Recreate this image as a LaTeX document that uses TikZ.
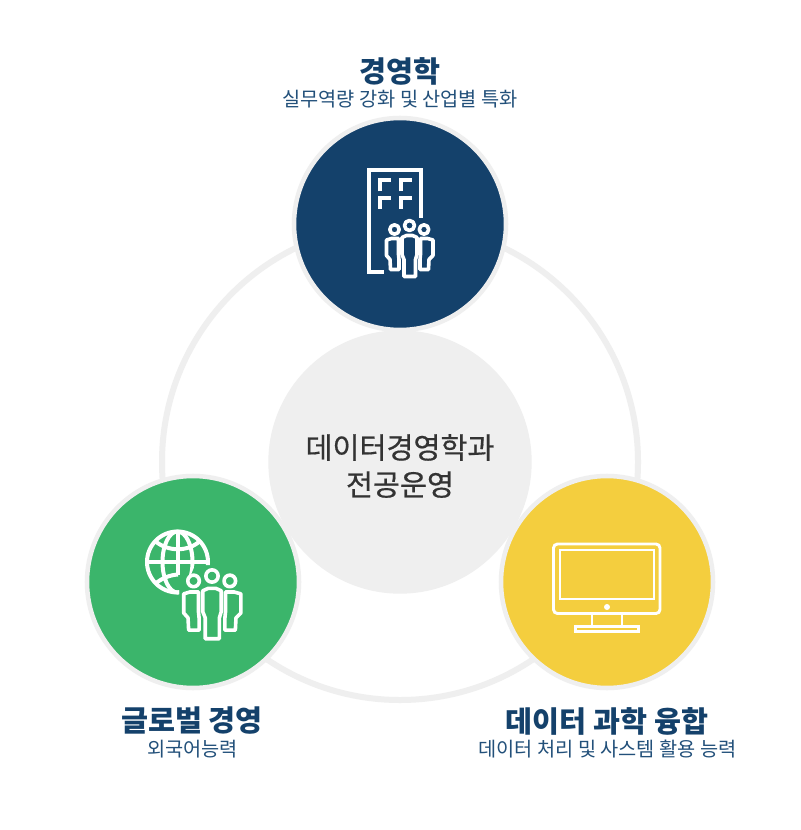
\documentclass[tikz,border=0pt]{standalone}
\usepackage{fontspec}
\newfontfamily\kr{Noto Sans CJK KR}
\newfontfamily\krcore[FakeBold=0.5]{Noto Sans CJK KR}
\definecolor{ringgrey}{HTML}{EFEFEF}
\definecolor{navy}{HTML}{14416B}
\definecolor{subnavy}{HTML}{22507A}
\definecolor{leaf}{HTML}{3BB56B}
\definecolor{sun}{HTML}{F4CE3E}
\definecolor{ink}{HTML}{333333}
\tikzset{
  x=0.75pt,y=-0.75pt,
  ball/.style={circle,draw=ringgrey,line width=3.4pt,minimum size=159pt,inner sep=0pt},
  icon/.style={draw=white,line width=2.2pt,line join=miter,fill=none},
  heavy/.style={draw=white,line width=3pt,line join=miter,fill=none},
  person/.style={draw=white,line width=2.7pt,line join=round,fill=none},
  title/.style={font=\kr\bfseries\fontsize{22}{26}\selectfont,text=navy,inner sep=0pt},
  subtitle/.style={font=\kr\fontsize{14.8}{18}\selectfont,text=subnavy,inner sep=0pt},
  core/.style={font=\krcore\fontsize{22}{27.8}\selectfont,text=ink,align=center,inner sep=0pt},
}
% three people; #1,#2 = position of the middle head's centre (px), #3 = scale
\newcommand{\threepeople}[3]{%
  \begin{scope}[shift={(#1,#2)},scale=#3]
    \draw[person] (0,0) circle (5);
    \draw[person] (-15,4) circle (4.7);
    \draw[person] (14.5,4) circle (4.7);
    \draw[person] (-7.5,12) -- (-3,10) -- (3,10) -- (7.5,12) -- (7.5,29) -- (6,34) -- (6,51) -- (-5.5,51) -- (-5.5,34) -- (-7.5,29) -- cycle;
    \draw[person] (-23,14.5) -- (-18,13) -- (-11,13) -- (-11,29) -- (-10.5,34) -- (-10.5,44) -- (-19,44) -- (-19.5,34) -- (-23,30) -- cycle;
    \draw[person] (23.5,14.5) -- (18,13) -- (11,13) -- (11,29) -- (10.5,34) -- (10.5,44) -- (19,44) -- (19.5,34) -- (23.5,30) -- cycle;
  \end{scope}}
\begin{document}
\begin{tikzpicture}
\useasboundingbox (0,0) rectangle (800,830);
\fill[white] (0,0) rectangle (800,830);
\node[circle,draw=ringgrey,line width=4.5pt,minimum size=357pt,inner sep=0pt] (orbit) at (400,462) {};
\node[circle,fill=ringgrey,minimum size=197.5pt,inner sep=0pt] (centre) at (400,462) {};
\node[core] (centretext) at (400,466) {데이터경영학과\\전공운영};
\node[ball,fill=navy] (mgmt) at (400,224) {};
\node[ball,fill=leaf] (global) at (193,582) {};
\node[ball,fill=sun] (data) at (607,582) {};
% building icon
\draw[heavy] (420.5,218) -- (420.5,170.5) -- (368.5,170.5) -- (368.5,271.5) -- (384,271.5);
\foreach \wx in {379.5,400.5}{\foreach \wy in {180.5,198}{
  \draw[heavy] (\wx,\wy+11) -- (\wx,\wy) -- (\wx+11,\wy);}}
\threepeople{409.5}{225.5}{1}
% globe icon
\begin{scope}
  \clip (140,520) -- (215,520) -- (215,565) -- (195,565) -- (190,577) -- (179,577) -- (179,600) -- (140,600) -- cycle;
  \draw[heavy] (177.5,562) circle (30.5);
  \draw[heavy] (177.5,562) ellipse (15 and 30.5);
  \draw[heavy] (147,562) -- (208,562);
  \draw[heavy] (155,541) .. controls (168,552) and (188,552) .. (200,541);
  \draw[heavy] (155,584) .. controls (162,578) and (170,575) .. (178,574.5);
\end{scope}
\draw[heavy] (178,531) -- (178,575);
\threepeople{212}{576}{1.23}
% monitor icon
\draw[icon,rounded corners=3pt] (553.5,544) rectangle (660,613.5);
\draw[icon] (560,550) rectangle (654,599);
\fill[white] (607,607) circle (3);
\draw[icon] (592,614) -- (592,626);
\draw[icon] (622,614) -- (622,626);
\draw[draw=white,line width=1.8pt] (575.5,626.5) rectangle (638.5,631.5);
% labels
\node[title] (t1) at (400,71) {경영학};
\node[subtitle] (s1) at (400,99) {실무역량 강화 및 산업별 특화};
\node[title] (t2) at (192,721) {글로벌 경영};
\node[subtitle] (s2) at (192.5,749.5) {외국어능력};
\node[title] (t3) at (607,721) {데이터 과학 융합};
\node[subtitle] (s3) at (607.5,749.5) {데이터 처리 및 사스템 활용 능력};
\end{tikzpicture}
\end{document}
